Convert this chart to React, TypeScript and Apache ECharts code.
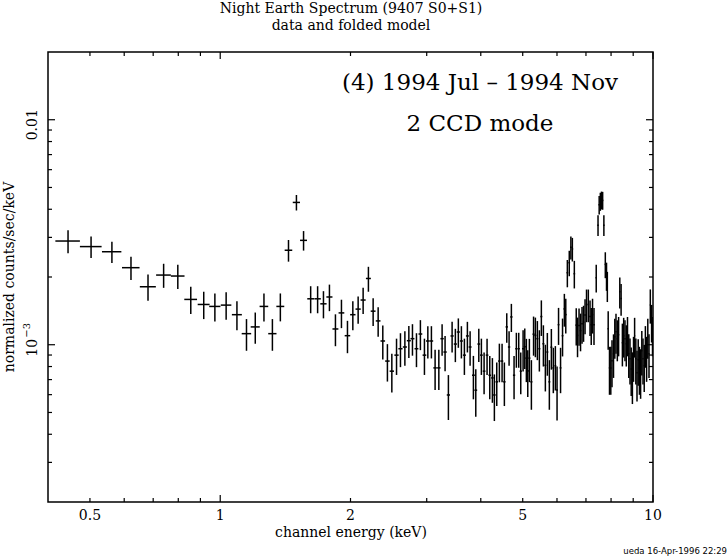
import React, { useEffect, useRef } from "react";
import * as echarts from "echarts";

// ---- data ----
// channel energy, keV (bin centres)
const energyKeV = [
  0.445, 0.503, 0.562, 0.622, 0.681, 0.740, 0.798, 0.855, 0.916, 0.972,
  1.032, 1.093, 1.150, 1.205, 1.262, 1.320, 1.377, 1.438, 1.500, 1.558,
  1.618, 1.679, 1.732, 1.788, 1.846, 1.906, 1.968, 2.025, 2.083, 2.139,
  2.200, 2.256, 2.317, 2.375, 2.434, 2.492, 2.555, 2.609, 2.671, 2.728,
  2.781, 2.841, 2.901, 2.964, 3.018, 3.076, 3.137, 3.200, 3.256, 3.308,
  3.367, 3.434, 3.494, 3.550, 3.608, 3.666, 3.725, 3.779, 3.846, 3.895,
  3.958, 4.013, 4.071, 4.136, 4.196, 4.255, 4.300, 4.355, 4.416, 4.480,
  4.535, 4.593, 4.650, 4.707, 4.775, 4.834, 4.895, 4.948,
  5.010, 5.055, 5.098, 5.136, 5.180, 5.236, 5.297, 5.348, 5.405, 5.463,
  5.521, 5.581, 5.640, 5.700, 5.761, 5.823, 5.884, 5.948, 6.002, 6.050,
  6.115, 6.180, 6.240, 6.287, 6.340, 6.405, 6.460, 6.511, 6.580, 6.647,
  6.693, 6.747, 6.801, 6.855, 6.911, 6.966, 7.021, 7.089, 7.153, 7.199,
  7.249, 7.306, 7.393, 7.464, 7.510, 7.556, 7.603, 7.650, 7.700, 7.759,
  7.809, 7.843, 7.879, 7.934, 7.989, 8.040, 8.105, 8.161, 8.213, 8.271,
  8.328, 8.381, 8.439, 8.497, 8.556, 8.615, 8.675, 8.731, 8.791, 8.848,
  8.905, 8.962, 9.016, 9.068, 9.127, 9.184, 9.243, 9.303, 9.362, 9.422,
  9.482, 9.544, 9.603, 9.665, 9.727, 9.790, 9.858, 9.926, 9.975,
];

// normalized counts/sec/keV, in units of 1e-3
const countsE3 = [
  2.89, 2.73, 2.59, 2.20, 1.81, 2.04, 2.02, 1.59, 1.51, 1.48,
  1.50, 1.36, 1.12, 1.20, 1.48, 1.12, 1.48, 2.63, 4.29, 2.91,
  1.60, 1.60, 1.52, 1.63, 1.175, 1.385, 1.097, 1.36, 1.44, 1.58,
  1.97, 1.41, 1.276, 1.039, 0.846, 0.763, 0.899, 0.960, 0.977, 1.042,
  1.064, 0.960, 1.116, 0.899, 1.039, 1.039, 0.789, 0.789, 1.064, 0.928,
  0.598, 1.094, 1.007, 1.139, 1.039, 0.899, 1.094, 0.977, 0.732, 0.628,
  1.007, 0.899, 0.763, 0.899, 0.732, 0.712, 0.598, 0.684, 0.846, 0.846,
  0.684, 1.20, 0.977, 1.329, 0.732, 0.960, 0.960, 0.763,
  0.960, 0.980, 0.872, 0.765, 0.872, 0.684, 1.114, 1.100, 1.064, 0.960,
  1.334, 1.010, 0.810, 0.928, 0.684, 0.975, 0.789, 0.806, 0.630, 1.228,
  0.789, 1.097, 1.443, 1.361, 2.090, 2.316, 2.710, 2.664, 2.069, 1.222,
  1.100, 1.219, 1.155, 1.241, 1.260, 1.354, 1.509, 1.509, 1.334, 1.228,
  1.361, 1.228, 1.986, 3.399, 4.187, 4.336, 4.394, 4.380, 3.399, 2.276,
  2.026, 1.828, 1.179, 0.789, 0.789, 0.848, 0.912, 1.086, 1.143, 1.064,
  1.108, 1.719, 1.604, 1.021, 1.097, 1.064, 1.010, 1.108, 0.912, 0.866,
  0.781, 0.735, 0.884, 1.097, 0.866, 0.750, 0.857, 0.789, 0.765, 0.940,
  0.866, 0.806, 1.000, 0.884, 1.086, 0.912, 1.501, 1.263, 1.108,
];

// 1-sigma errors, in units of 1e-3
const errorsE3 = [
  0.34, 0.30, 0.28, 0.26, 0.24, 0.25, 0.25, 0.22, 0.21, 0.21,
  0.21, 0.20, 0.18, 0.19, 0.21, 0.18, 0.21, 0.29, 0.34, 0.29,
  0.22, 0.22, 0.21, 0.22, 0.19, 0.20, 0.18, 0.20, 0.20, 0.21,
  0.25, 0.20, 0.19, 0.18, 0.16, 0.15, 0.165, 0.165, 0.17, 0.17,
  0.17, 0.165, 0.17, 0.165, 0.17, 0.17, 0.16, 0.16, 0.17, 0.165,
  0.135, 0.17, 0.17, 0.17, 0.17, 0.165, 0.17, 0.17, 0.16, 0.15,
  0.17, 0.165, 0.16, 0.165, 0.16, 0.16, 0.14, 0.15, 0.165, 0.165,
  0.15, 0.18, 0.17, 0.19, 0.16, 0.17, 0.17, 0.16,
  0.20, 0.20, 0.19, 0.18, 0.19, 0.17, 0.22, 0.22, 0.21, 0.20,
  0.24, 0.21, 0.19, 0.20, 0.17, 0.20, 0.18, 0.18, 0.17, 0.23,
  0.18, 0.21, 0.24, 0.24, 0.29, 0.30, 0.32, 0.32, 0.29, 0.23,
  0.22, 0.23, 0.22, 0.23, 0.23, 0.24, 0.25, 0.25, 0.24, 0.23,
  0.24, 0.23, 0.28, 0.36, 0.40, 0.40, 0.40, 0.40, 0.36, 0.30,
  0.29, 0.28, 0.23, 0.19, 0.19, 0.20, 0.20, 0.22, 0.23, 0.22,
  0.22, 0.27, 0.26, 0.22, 0.22, 0.22, 0.21, 0.22, 0.20, 0.20,
  0.19, 0.19, 0.20, 0.22, 0.20, 0.19, 0.20, 0.19, 0.19, 0.21,
  0.20, 0.19, 0.21, 0.20, 0.22, 0.20, 0.26, 0.24, 0.22,
];

const BIN_HALF_WIDTH = 0.029; // keV
const UNIT = 1e-3;

// axes
const X_MIN = 0.4;
const X_MAX = 10;
const Y_MIN = 2e-4;
const Y_MAX = 0.02;
const xMajorTicks = [1, 10];
const xMinorTicks = [0.5, 0.6, 0.7, 0.8, 0.9, 2, 3, 4, 5, 6, 7, 8, 9];
const xLabelValues = [0.5, 1, 2, 5, 10];
const xLabelTexts = ["0.5", "1", "2", "5", "10"];
const yMajorTicks = [0.001, 0.01];
const yMinorTicks = [
  3e-4, 4e-4, 5e-4, 6e-4, 7e-4, 8e-4, 9e-4,
  2e-3, 3e-3, 4e-3, 5e-3, 6e-3, 7e-3, 8e-3, 9e-3,
];
const yLabelValues = [0.01, 0.001];
const yLabelMantissa = ["0.01", "10"];
const yLabelExponent = ["", "\u22123"];

const FONT = "'DejaVu Serif', 'Liberation Serif', serif";
const INK = "#000";

const renderCross = (params: any, api: any) => {
  const e = api.value(0);
  const v = api.value(1);
  const dE = api.value(2);
  const er = api.value(3);
  const l = api.coord([e - dE, v]);
  const r = api.coord([e + dE, v]);
  const t = api.coord([e, v + er]);
  const b = api.coord([e, v - er]);
  const style = { stroke: INK, lineWidth: 1.5, fill: null };
  return {
    type: "group",
    children: [
      { type: "line", shape: { x1: l[0], y1: l[1], x2: r[0], y2: r[1] }, style },
      { type: "line", shape: { x1: t[0], y1: t[1], x2: b[0], y2: b[1] }, style },
    ],
  };
};

const renderXTick = (params: any, api: any) => {
  const cs = params.coordSys;
  const px = api.coord([api.value(0), Y_MIN])[0];
  const len = api.value(2) ? 7 : 4;
  const bottom = cs.y + cs.height;
  const style = { stroke: INK, lineWidth: 1.2 };
  return {
    type: "group",
    children: [
      { type: "line", shape: { x1: px, y1: bottom, x2: px, y2: bottom - len }, style },
      { type: "line", shape: { x1: px, y1: cs.y, x2: px, y2: cs.y + len }, style },
    ],
  };
};

const renderYTick = (params: any, api: any) => {
  const cs = params.coordSys;
  const py = api.coord([X_MIN, api.value(1)])[1];
  const len = api.value(2) ? 7 : 4;
  const right = cs.x + cs.width;
  const style = { stroke: INK, lineWidth: 1.2 };
  return {
    type: "group",
    children: [
      { type: "line", shape: { x1: cs.x, y1: py, x2: cs.x + len, y2: py }, style },
      { type: "line", shape: { x1: right, y1: py, x2: right - len, y2: py }, style },
    ],
  };
};

const textStyle = (text: string, size: number, align = "center") => ({
  text,
  font: `${size}px ${FONT}`,
  fill: INK,
  align,
  verticalAlign: "middle",
  textAlign: align,
  textVerticalAlign: "middle",
});

const renderXLabel = (params: any, api: any) => {
  const cs = params.coordSys;
  const px = api.coord([api.value(0), Y_MIN])[0];
  return {
    type: "text",
    x: px,
    y: cs.y + cs.height + 13,
    style: textStyle(xLabelTexts[params.dataIndex], 14),
  };
};

const renderYLabel = (params: any, api: any) => {
  const cs = params.coordSys;
  const py = api.coord([X_MIN, api.value(1)])[1];
  const i = params.dataIndex;
  const exp = yLabelExponent[i];
  const children: any[] = [];
  if (exp) {
    children.push({ type: "text", x: -3, y: 0, style: textStyle(yLabelMantissa[i], 14) });
    children.push({ type: "text", x: 7, y: -6, style: textStyle(exp, 10, "left") });
  } else {
    children.push({ type: "text", x: -5, y: 0, style: textStyle(yLabelMantissa[i], 14) });
  }
  return {
    type: "group",
    x: cs.x - 16,
    y: py,
    rotation: Math.PI / 2,
    children,
  };
};

const buildOption = () => {
  const points = energyKeV.map((e, i) => [e, countsE3[i] * UNIT, BIN_HALF_WIDTH, errorsE3[i] * UNIT]);
  const xTickData = [
    ...xMajorTicks.map((v) => [v, Y_MIN, 1]),
    ...xMinorTicks.map((v) => [v, Y_MIN, 0]),
  ];
  const yTickData = [
    ...yMajorTicks.map((v) => [X_MIN, v, 1]),
    ...yMinorTicks.map((v) => [X_MIN, v, 0]),
  ];
  return {
    animation: false,
    backgroundColor: "#fff",
    grid: {
      left: 48,
      top: 52,
      width: 605,
      height: 450,
      show: true,
      borderColor: INK,
      borderWidth: 1.5,
      backgroundColor: "transparent",
    },
    xAxis: {
      type: "log",
      logBase: 10,
      min: X_MIN,
      max: X_MAX,
      axisLine: { show: false },
      axisTick: { show: false },
      axisLabel: { show: false },
      splitLine: { show: false },
    },
    yAxis: {
      type: "log",
      logBase: 10,
      min: Y_MIN,
      max: Y_MAX,
      axisLine: { show: false },
      axisTick: { show: false },
      axisLabel: { show: false },
      splitLine: { show: false },
    },
    graphic: [
      { type: "text", x: 351, y: 8, style: textStyle("Night Earth Spectrum (9407 S0+S1)", 14) },
      { type: "text", x: 351, y: 25, style: textStyle("data and folded model", 14) },
      { type: "text", x: 351, y: 532, style: textStyle("channel energy (keV)", 14) },
      {
        type: "text",
        x: 9,
        y: 277,
        rotation: Math.PI / 2,
        style: textStyle("normalized counts/sec/keV", 14),
      },
      { type: "text", x: 480, y: 82, style: textStyle("(4) 1994 Jul \u2013 1994 Nov", 23) },
      { type: "text", x: 480, y: 123, style: textStyle("2 CCD mode", 23) },
      {
        type: "text",
        x: 727,
        y: 550.5,
        style: {
          text: "ueda 16-Apr-1996 22:29",
          font: "8.5px 'DejaVu Sans', sans-serif",
          fill: INK,
          align: "right",
          verticalAlign: "middle",
          textAlign: "right",
          textVerticalAlign: "middle",
        },
      },
    ],
    series: [
      {
        type: "custom",
        name: "data",
        coordinateSystem: "cartesian2d",
        renderItem: renderCross,
        encode: { x: 0, y: 1 },
        data: points,
        clip: true,
        silent: true,
        z: 5,
      },
      {
        type: "custom",
        name: "xticks",
        coordinateSystem: "cartesian2d",
        renderItem: renderXTick,
        encode: { x: 0, y: 1 },
        data: xTickData,
        silent: true,
        z: 6,
      },
      {
        type: "custom",
        name: "yticks",
        coordinateSystem: "cartesian2d",
        renderItem: renderYTick,
        encode: { x: 0, y: 1 },
        data: yTickData,
        silent: true,
        z: 6,
      },
      {
        type: "custom",
        name: "xlabels",
        coordinateSystem: "cartesian2d",
        renderItem: renderXLabel,
        encode: { x: 0, y: 1 },
        data: xLabelValues.map((v) => [v, Y_MIN]),
        silent: true,
        z: 6,
      },
      {
        type: "custom",
        name: "ylabels",
        coordinateSystem: "cartesian2d",
        renderItem: renderYLabel,
        encode: { x: 0, y: 1 },
        data: yLabelValues.map((v) => [X_MIN, v]),
        silent: true,
        z: 6,
      },
    ],
  };
};

export default function App() {
  const ref = useRef<HTMLDivElement>(null);
  useEffect(() => {
    if (!ref.current) return;
    const chart = echarts.init(ref.current, undefined, { renderer: "svg" });
    chart.setOption(buildOption() as any);
    return () => chart.dispose();
  }, []);
  return (
    <div
      ref={ref}
      style={{ position: "absolute", left: 0, top: 0, width: 728, height: 557, background: "#fff" }}
    />
  );
}
